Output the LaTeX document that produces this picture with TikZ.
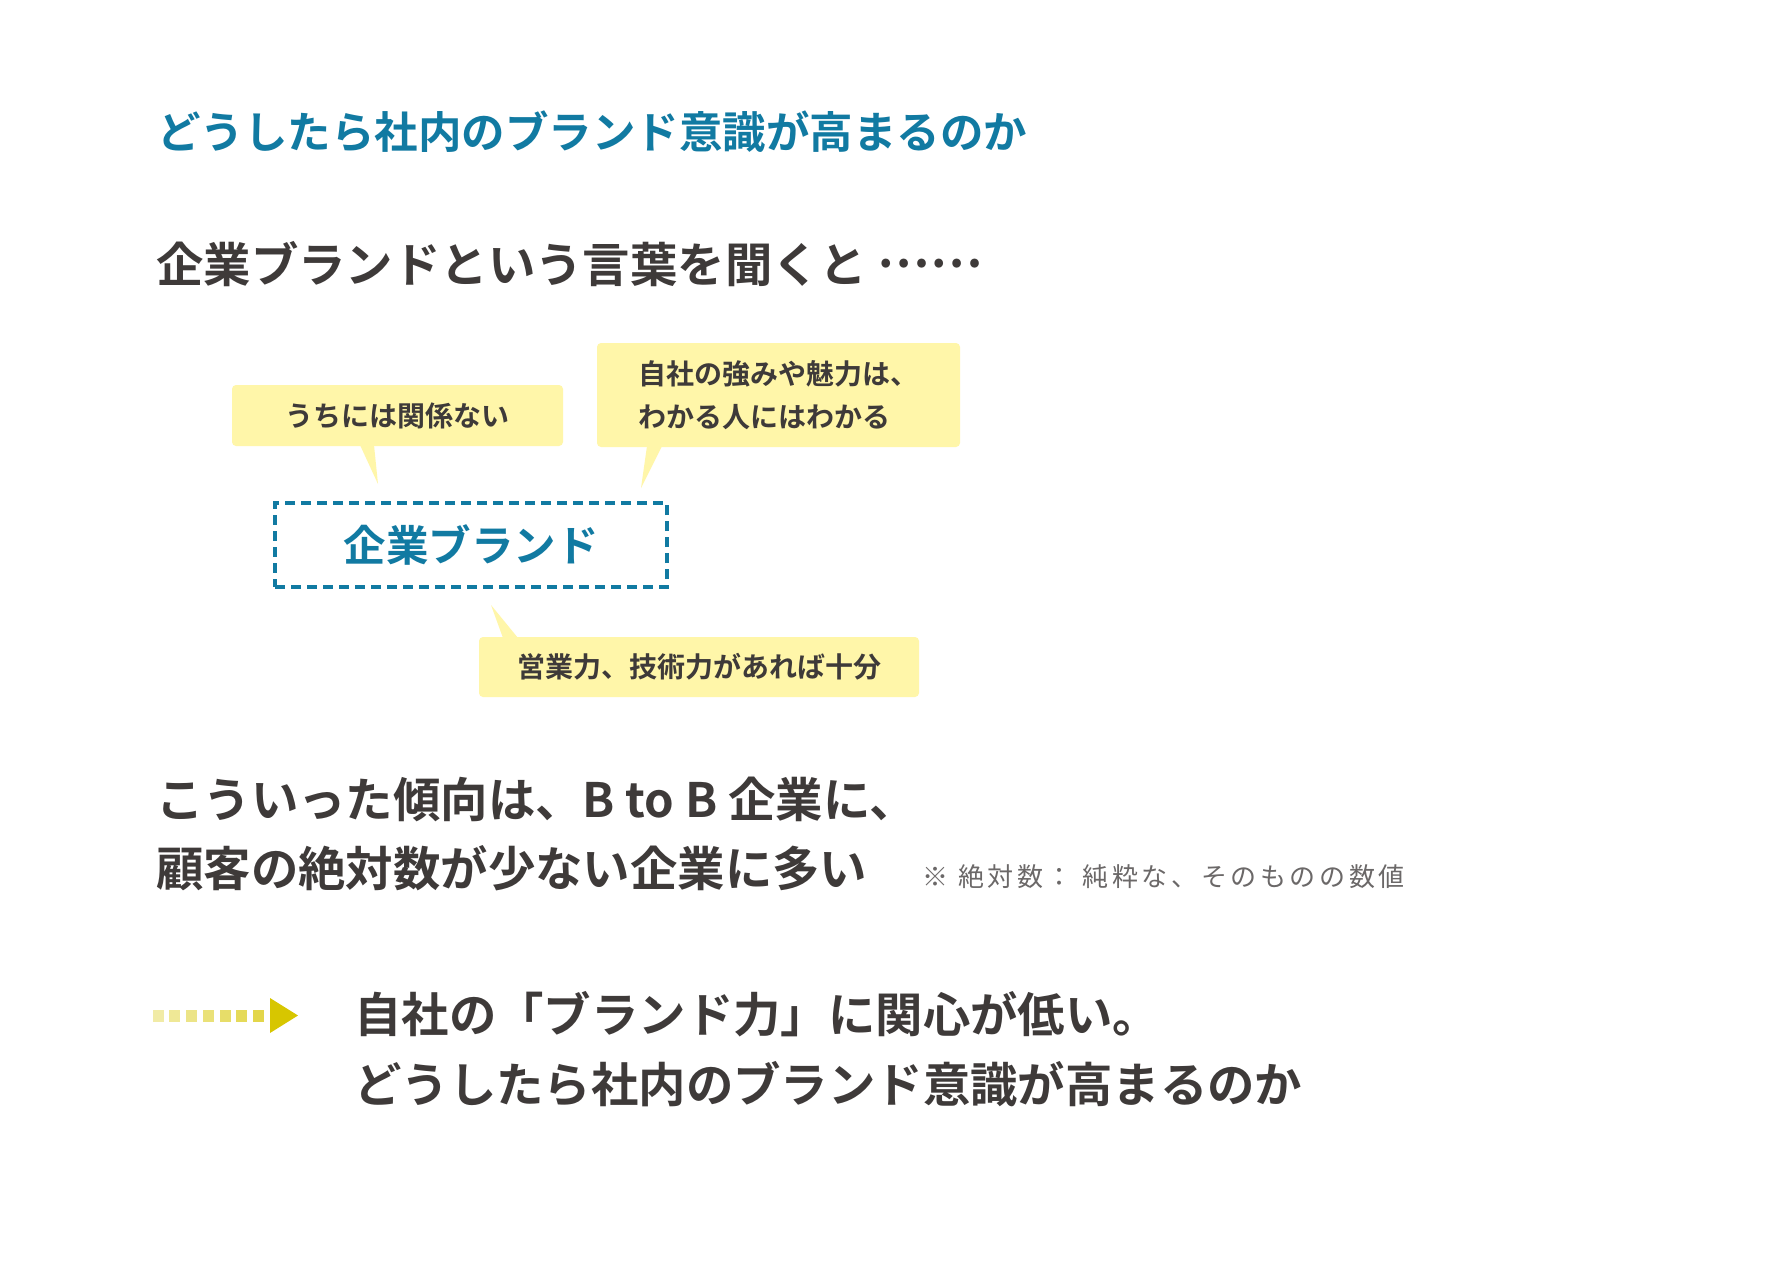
\documentclass[tikz,border=0pt]{standalone}
\usepackage{fontspec}
\usepackage{tikz}
\usetikzlibrary{positioning}
\newfontfamily\jp{Noto Sans CJK JP}[BoldFont={Noto Sans CJK JP Bold}]
\newfontfamily\jpnote{Noto Sans CJK JP}[LetterSpace=14]
\definecolor{brandblue}{HTML}{117AA2}
\definecolor{inkdark}{HTML}{3E3A39}
\definecolor{notegray}{HTML}{6B6868}
\definecolor{bubbleyellow}{HTML}{FFF6A9}
\definecolor{arrowyellow}{HTML}{D7C600}

\begin{document}
\begin{tikzpicture}[x=1pt, y=-1pt,
    heading/.style={anchor=west, inner sep=0pt, text=inkdark,
      font=\jp\bfseries\fontsize{47.4pt}{47.4pt}\selectfont, text height=41pt, text depth=6pt},
    bubble/.style={fill=bubbleyellow, rounded corners=4pt, inner sep=0pt, text=inkdark,
      font=\jp\bfseries\fontsize{28pt}{43.3pt}\selectfont, align=center},
    brandbox/.style={draw=brandblue, line width=3.3pt, dash pattern=on 10pt off 6pt,
      inner sep=0pt, text=brandblue, font=\jp\bfseries\fontsize{42.5pt}{42.5pt}\selectfont},
    note/.style={inner sep=0pt, text=notegray, font=\jpnote\fontsize{26pt}{26pt}\selectfont}]
  \fill[white] (0,0) rectangle (1790,1276);

  \node[heading, text=brandblue, font=\jp\bfseries\fontsize{43.5pt}{43.5pt}\selectfont,
        text height=38pt, text depth=5pt] (title) at (157,132) {どうしたら社内のブランド意識が高まるのか};
  \node[heading] (hearing) at (156,265) {企業ブランドという言葉を聞くと \raisebox{15pt}{……}};

  \fill[bubbleyellow] (360,445) -- (378,484) -- (374,445) -- cycle;
  \fill[bubbleyellow] (647,446) -- (641,488) -- (662,446) -- cycle;
  \fill[bubbleyellow] (503,638) -- (491,605) -- (518,638) -- cycle;

  \node[bubble, minimum width=331pt, minimum height=61pt] (nokankei) at (397.5,415.5) {うちには関係ない};
  \node[bubble, minimum width=363pt, minimum height=104pt, align=left] (strength) at (778.5,395)
    {自社の強みや魅力は、\\わかる人にはわかる};
  \node[bubble, minimum width=440pt, minimum height=60pt] (salespower) at (699,667) {営業力、技術力があれば十分};

  \node[brandbox, minimum width=392pt, minimum height=84pt] (brand) at (471,545) {企業ブランド};

  \node[heading] (tendency) at (156,800) {こういった傾向は、B to B 企業に、};
  \node[heading] (manylow) at (156,869) {顧客の絶対数が少ない企業に多い};
  \node[note, right=55pt of manylow.base east, anchor=base west] (absnote)
    {※ 絶対数： 純粋な、そのものの数値};

  \foreach \i in {0,...,6} {
    \pgfmathtruncatemacro\shade{35+6*\i}
    \fill[arrowyellow!\shade!white] ({152.7+16.7*\i},1010) rectangle ++(11,12);
  }
  \fill[arrowyellow] (270,998) -- (298,1015.5) -- (270,1033) -- cycle;

  \node[heading] (lowinterest) at (354,1015) {自社の「ブランド力」に関心が低い。};
  \node[heading] (howto) at (354,1085) {どうしたら社内のブランド意識が高まるのか};
\end{tikzpicture}
\end{document}
